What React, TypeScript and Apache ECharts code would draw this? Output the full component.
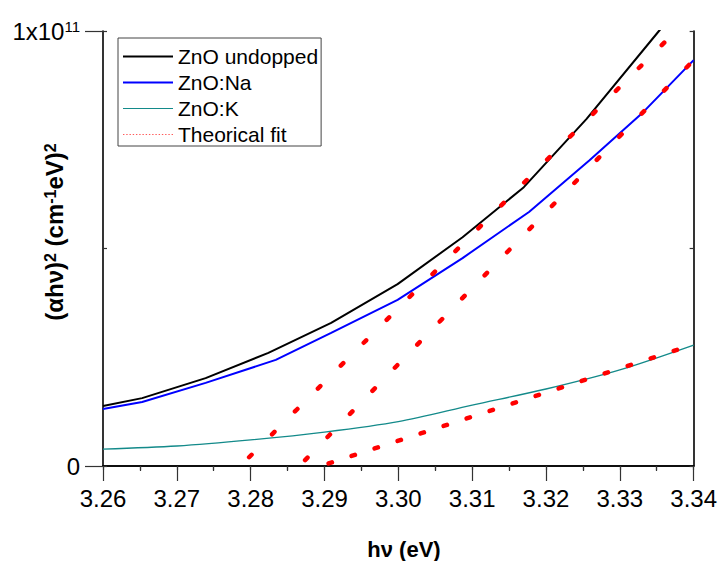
import React, { useEffect, useRef } from 'react';
import * as echarts from 'echarts';

// photon energy hν (eV) and (αhν)² in units of 1e11 (cm^-1 eV)^2
const hvUndoped = [3.26, 3.2653, 3.2739, 3.2824, 3.2909, 3.2999, 3.3087, 3.317, 3.3255, 3.3353, 3.34];
const valUndoped = [0.138, 0.156, 0.202, 0.26, 0.329, 0.418, 0.526, 0.641, 0.798, 1.0, 1.095];

const hvNa = [3.26, 3.2653, 3.2739, 3.2834, 3.2909, 3.2999, 3.3087, 3.3177, 3.3259, 3.3332, 3.34];
const valNa = [0.131, 0.147, 0.191, 0.244, 0.306, 0.382, 0.478, 0.584, 0.703, 0.814, 0.933];

const hvK = [3.26, 3.27, 3.28, 3.29, 3.3, 3.31, 3.32, 3.33, 3.34];
const valK = [0.039, 0.046, 0.06, 0.078, 0.102, 0.14, 0.177, 0.221, 0.278];

// theoretical (linear) fits
const fitUndopedHv = [3.2786, 3.3376];
const fitUndopedVal = [0, 1.0];
const fitNaHv = [3.2866, 3.34];
const fitNaVal = [0, 0.933];
const fitKHv = [3.2895, 3.34];
const fitKVal = [0, 0.2795];

const xTicks = { min: 3.26, max: 3.34, step: 0.01 };
const yTicks = { min: 0, max: 1, step: 1 };

const FONT = 'Arial, "Liberation Sans", Helvetica, sans-serif';

const zip = (xs: number[], ys: number[]) => xs.map((x, i) => [x, ys[i]]);

let dottedPath = '';
for (let i = 0; i < 16; i++) dottedPath += `M${i * 3} 0h1.3v1h-1.3z`;

export default function App() {
  const ref = useRef<HTMLDivElement>(null);
  useEffect(() => {
    if (!ref.current) return;
    const chart = echarts.init(ref.current, undefined, { renderer: 'svg' });
    const axisLineStyle = { color: '#000', width: 1.6 };
    const tickStyle = { color: '#333', width: 1.2 };
    const fitStyle = (period: number, offset: number) => ({
      color: '#ff0000',
      width: 4.5,
      type: [3.5, period - 3.5],
      dashOffset: offset,
      cap: 'round',
    });
    const option: any = {
      animation: false,
      backgroundColor: '#fff',
      grid: { left: 103, top: 31, width: 595, height: 435, containLabel: false },
      legend: {
        orient: 'vertical',
        left: 118,
        top: 38,
        padding: [8, 3, 1, 5],
        itemGap: 5,
        itemWidth: 50,
        itemHeight: 2,
        borderColor: '#444',
        borderWidth: 1,
        backgroundColor: '#fff',
        textStyle: { fontSize: 21, color: '#000', fontFamily: FONT },
        data: [
          { name: 'ZnO undopped', icon: 'rect', itemStyle: { color: '#000' } },
          { name: 'ZnO:Na', icon: 'rect', itemStyle: { color: '#0000ff' } },
          { name: 'ZnO:K', icon: 'path://M0 0h50v1h-50z', itemStyle: { color: '#138a8a' } },
          { name: 'Theorical fit', icon: 'path://' + dottedPath, itemStyle: { color: '#ff5a5a' } },
        ],
      },
      xAxis: [
        {
          type: 'value',
          position: 'bottom',
          min: xTicks.min,
          max: xTicks.max,
          interval: xTicks.step,
          axisLine: { lineStyle: axisLineStyle },
          axisTick: { length: 15, lineStyle: tickStyle },
          minorTick: { show: true, splitNumber: 2, length: 5, lineStyle: tickStyle },
          splitLine: { show: false },
          axisLabel: {
            fontSize: 24,
            color: '#000',
            fontFamily: FONT,
            margin: 20,
            formatter: (v: number) => v.toFixed(2),
          },
        },
        {
          type: 'value',
          position: 'top',
          min: xTicks.min,
          max: xTicks.max,
          interval: xTicks.step / 2,
          axisLine: { lineStyle: axisLineStyle },
          axisTick: { inside: true, length: 4, lineStyle: tickStyle },
          splitLine: { show: false },
          axisLabel: { show: false },
        },
      ],
      yAxis: [
        {
          type: 'value',
          position: 'left',
          min: yTicks.min,
          max: yTicks.max,
          interval: yTicks.step,
          axisLine: { lineStyle: axisLineStyle },
          axisTick: { length: 18, lineStyle: tickStyle },
          splitLine: { show: false },
          axisLabel: {
            fontSize: 24,
            color: '#000',
            fontFamily: FONT,
            margin: 23,
            formatter: (v: number) => (v === 0 ? '0' : '{a|1x10}{s|11}'),
            rich: {
              a: { fontSize: 24, color: '#000', fontFamily: FONT },
              s: { fontSize: 15, color: '#000', fontFamily: FONT, verticalAlign: 'top' },
            },
          },
        },
        {
          type: 'value',
          position: 'left',
          min: yTicks.min,
          max: yTicks.max,
          interval: yTicks.step / 2,
          axisLine: { show: false },
          axisTick: { inside: true, length: 4, lineStyle: tickStyle },
          splitLine: { show: false },
          axisLabel: { show: false },
        },
        {
          type: 'value',
          position: 'right',
          min: yTicks.min,
          max: yTicks.max,
          interval: yTicks.step / 2,
          axisLine: { lineStyle: axisLineStyle },
          axisTick: { inside: true, length: 4, lineStyle: tickStyle },
          splitLine: { show: false },
          axisLabel: { show: false },
        },
      ],
      series: [
        {
          name: 'ZnO undopped',
          type: 'line',
          data: zip(hvUndoped, valUndoped),
          symbol: 'none',
          clip: true,
          color: '#000',
          lineStyle: { color: '#000', width: 2 },
          z: 3,
        },
        {
          name: 'ZnO:Na',
          type: 'line',
          data: zip(hvNa, valNa),
          symbol: 'none',
          clip: true,
          color: '#0000ff',
          lineStyle: { color: '#0000ff', width: 2 },
          z: 3,
        },
        {
          name: 'ZnO:K',
          type: 'line',
          data: zip(hvK, valK),
          symbol: 'none',
          smooth: 0.3,
          clip: true,
          color: '#138a8a',
          lineStyle: { color: '#138a8a', width: 1.3 },
          z: 3,
        },
        {
          name: 'Theorical fit',
          type: 'line',
          data: zip(fitUndopedHv, fitUndopedVal),
          symbol: 'none',
          clip: true,
          color: '#ff0000',
          lineStyle: fitStyle(32.4, 20.15),
          z: 4,
        },
        {
          name: 'Theorical fit',
          type: 'line',
          data: zip(fitNaHv, fitNaVal),
          symbol: 'none',
          clip: true,
          color: '#ff0000',
          lineStyle: fitStyle(32.2, 24),
          z: 4,
        },
        {
          name: 'Theorical fit',
          type: 'line',
          data: zip(fitKHv, fitKVal),
          symbol: 'none',
          clip: true,
          color: '#ff0000',
          lineStyle: fitStyle(24.2, 16.2),
          z: 4,
        },
      ],
      graphic: [
        {
          type: 'text',
          x: 54,
          y: 232,
          rotation: Math.PI / 2,
          style: {
            text: '{b|(αhν)}{s|2}{b| (cm}{s|-1}{b|eV)}{s|2}',
            align: 'center',
            verticalAlign: 'middle',
            rich: {
              b: { fontSize: 24, fontWeight: 'bold', fontFamily: FONT, fill: '#000' },
              s: { fontSize: 16, fontWeight: 'bold', fontFamily: FONT, fill: '#000', verticalAlign: 'top' },
            },
          },
        },
        {
          type: 'text',
          x: 404,
          y: 549,
          style: {
            text: 'hν (eV)',
            font: `bold 22px ${FONT}`,
            align: 'center',
            verticalAlign: 'middle',
            fill: '#000',
          },
        },
      ],
    };
    chart.setOption(option);
    return () => chart.dispose();
  }, []);
  return <div ref={ref} style={{ width: 720, height: 561, position: 'absolute', left: 0, top: 0 }} />;
}
